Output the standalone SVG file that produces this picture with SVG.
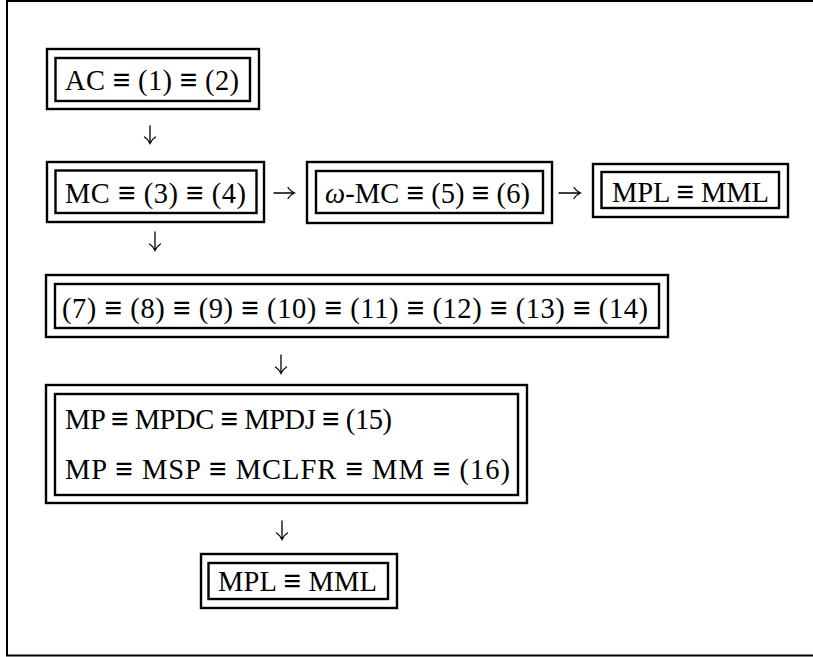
<svg xmlns="http://www.w3.org/2000/svg" width="813" height="657" viewBox="0 0 813 657">
<style>
.o{fill:none;stroke:#000;stroke-width:2.4}
.i{fill:none;stroke:#000;stroke-width:2.4}
.t{font-family:"Liberation Serif","DejaVu Serif",serif;font-size:28.5px;fill:#000}
.e{font-family:"DejaVu Sans",sans-serif;font-size:30px;font-weight:300}
.c{fill:none;stroke:#000;stroke-width:1.3;stroke-linecap:round}
</style>
<rect width="813" height="657" fill="#fff"/>
<path d="M813,1 H7 V655.5 H813" fill="none" stroke="#000" stroke-width="2"/>
<g id="n1">
<rect class="o" x="47" y="49" width="212" height="60"/>
<rect class="i" x="55.5" y="58" width="194.5" height="43"/>
<text class="t" x="65" y="90" textLength="174">AC <tspan class="e">≡</tspan> (1) <tspan class="e">≡</tspan> (2)</text>
</g>
<g id="n2">
<rect class="o" x="47" y="162" width="217" height="60"/>
<rect class="i" x="55.5" y="170.5" width="201" height="42.5"/>
<text class="t" x="65" y="203" textLength="181">MC <tspan class="e">≡</tspan> (3) <tspan class="e">≡</tspan> (4)</text>
</g>
<g id="n3">
<rect class="o" x="307" y="162" width="245" height="61"/>
<rect class="i" x="316" y="171" width="227" height="42"/>
<text class="t" x="325" y="203" textLength="205"><tspan font-style="italic">ω</tspan>-MC <tspan class="e">≡</tspan> (5) <tspan class="e">≡</tspan> (6)</text>
</g>
<g id="n4">
<rect class="o" x="593" y="164" width="195" height="53"/>
<rect class="i" x="601.5" y="172" width="177.5" height="36"/>
<text class="t" x="612" y="202" textLength="157">MPL <tspan class="e">≡</tspan> MML</text>
</g>
<g id="n5">
<rect class="o" x="46" y="275" width="622" height="62"/>
<rect class="i" x="55" y="284" width="604" height="44"/>
<text class="t" x="62" y="318" textLength="586">(7) <tspan class="e">≡</tspan> (8) <tspan class="e">≡</tspan> (9) <tspan class="e">≡</tspan> (10) <tspan class="e">≡</tspan> (11) <tspan class="e">≡</tspan> (12) <tspan class="e">≡</tspan> (13) <tspan class="e">≡</tspan> (14)</text>
</g>
<g id="n6">
<rect class="o" x="46" y="385" width="481" height="118"/>
<rect class="i" x="55" y="394" width="463" height="101"/>
<text class="t" x="65" y="429" textLength="327">MP <tspan class="e">≡</tspan> MPDC <tspan class="e">≡</tspan> MPDJ <tspan class="e">≡</tspan> (15)</text>
<text class="t" x="65" y="479" textLength="445">MP <tspan class="e">≡</tspan> MSP <tspan class="e">≡</tspan> MCLFR <tspan class="e">≡</tspan> MM <tspan class="e">≡</tspan> (16)</text>
</g>
<g id="n7">
<rect class="o" x="201" y="554" width="196" height="54"/>
<rect class="i" x="208.5" y="563" width="179.5" height="36"/>
<text class="t" x="218" y="591" textLength="159">MPL <tspan class="e">≡</tspan> MML</text>
</g>
<g id="connectors">
<path class="c" d="M150,126 V143 M144.5,137 Q148,139 150,143.5 Q152,139 155.5,137"/>
<path class="c" d="M155,232 V250 M149.5,244 Q153,246 155,250.5 Q157,246 160.5,244"/>
<path class="c" d="M281,355 V373 M275.5,367 Q279,369 281,373.5 Q283,369 286.5,367"/>
<path class="c" d="M282,521 V539 M276.5,533 Q280,535 282,539.5 Q284,535 287.5,533"/>
<path class="c" d="M274,193 H294 M288,187.5 Q290,191 294.5,193 Q290,195 288,198.5"/>
<path class="c" d="M559,193 H580 M574,187.5 Q576,191 580.5,193 Q576,195 574,198.5"/>
</g>
</svg>
